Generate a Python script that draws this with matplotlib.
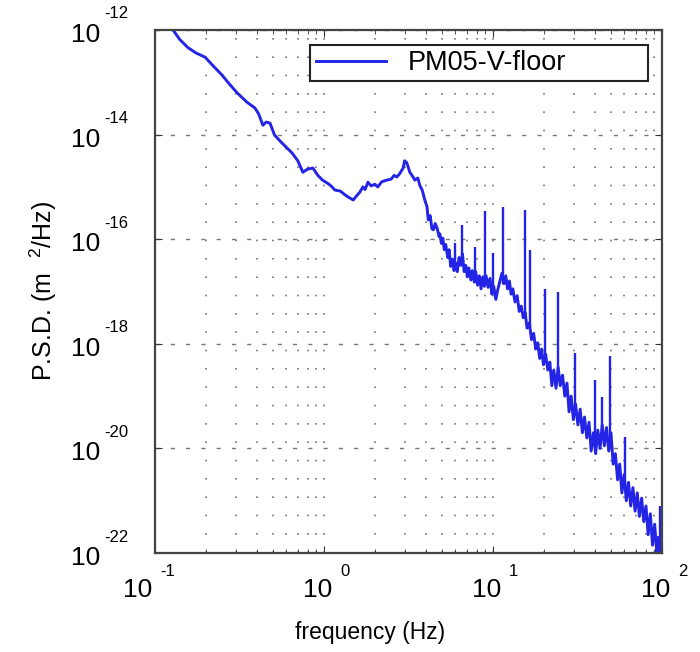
# Imports =====================================================================
import numpy as np
import matplotlib
matplotlib.use("Agg")
import matplotlib.pyplot as plt
from matplotlib.ticker import LogLocator, NullLocator, FixedLocator

plt.rcParams["font.family"] = ["Liberation Sans", "DejaVu Sans"]
plt.rcParams["mathtext.fontset"] = "custom"
plt.rcParams["mathtext.rm"] = "Liberation Sans"
plt.rcParams["mathtext.it"] = "Liberation Sans"
plt.rcParams["mathtext.default"] = "regular"

# Data ========================================================================
# frequency (Hz) and log10 of PSD (m^2/Hz) along the trace
freq = [0.128, 0.14, 0.157, 0.175, 0.198, 0.22, 0.249, 0.275, 0.306, 0.35,
        0.39, 0.41, 0.435, 0.455, 0.479, 0.51, 0.56, 0.647, 0.70, 0.75,
        0.80, 0.86, 0.92, 0.98, 1.05, 1.1, 1.16, 1.25, 1.33, 1.4,
        1.49, 1.55, 1.63, 1.7, 1.75, 1.82, 1.9, 2.0, 2.08, 2.2,
        2.36, 2.5, 2.6, 2.70, 2.8, 2.94, 3.0, 3.09, 3.15, 3.22,
        3.35, 3.45, 3.59, 3.7, 3.81, 3.95, 4.07, 4.14, 4.25, 4.35,
        4.44, 4.55, 4.67, 4.8,
        4.85, 4.95, 5.05, 5.15, 5.25, 5.40, 5.50, 5.62, 5.75, 5.88,
        6.00, 6.15, 6.30, 6.45, 6.60, 6.75, 6.90, 7.05, 7.20, 7.40,
        7.55, 7.75, 7.90, 8.10, 8.30, 8.50, 8.70, 8.90, 9.10, 9.35,
        9.60, 9.85, 10.1, 10.4, 10.7, 11.0, 11.3, 11.6, 11.9, 12.2,
        12.5, 12.8, 13.1, 13.5, 13.9, 14.3, 14.7, 15.1, 15.5, 15.9,
        16.4, 16.9, 17.4, 17.9, 18.4, 18.9, 19.4, 19.9, 20.5, 21.1,
        21.7, 22.3, 22.9, 23.6, 24.3, 25.0, 25.8, 26.6, 27.4, 28.2,
        29.0, 29.9, 30.8, 31.8, 32.8, 33.8, 34.8, 35.9, 37.0, 38.1,
        39.3, 40.5, 41.7, 43.0, 44.3, 45.6, 47.0, 48.4, 49.9, 51.4,
        53.0, 54.6, 56.2, 57.9, 59.7, 61.5, 63.4, 65.3, 67.3, 69.3,
        71.4, 73.5, 75.8, 78.0, 80.4, 82.8, 85.3, 87.9, 90.5, 93.2,
        95.0, 97.0, 98.5, 100.0]
psd_exp = [-12.0, -12.18, -12.34, -12.44, -12.52, -12.68, -12.86, -13.03, -13.20, -13.38,
           -13.49, -13.60, -13.82, -13.76, -13.78, -14.01, -14.15, -14.35, -14.50, -14.72,
           -14.66, -14.64, -14.78, -14.87, -14.93, -14.98, -15.06, -15.08, -15.15, -15.20,
           -15.25, -15.18, -15.10, -15.00, -15.05, -14.91, -14.98, -14.95, -15.00, -14.90,
           -14.87, -14.85, -14.78, -14.81, -14.75, -14.64, -14.50, -14.54, -14.62, -14.72,
           -14.80, -14.87, -14.83, -14.98, -15.06, -15.25, -15.38, -15.63, -15.55, -15.80,
           -15.82, -15.70, -15.79, -15.95,
           -15.90, -16.08, -15.98, -16.20, -16.10, -16.35, -16.20, -16.52, -16.38, -16.60,
           -16.45, -16.62, -16.35, -16.50, -16.28, -16.62, -16.50, -16.72, -16.55, -16.78,
           -16.60, -16.82, -16.62, -16.88, -16.70, -16.95, -16.72, -16.90, -16.70, -16.92,
           -16.75, -17.05, -16.90, -17.15, -16.95, -16.80, -16.65, -16.85, -16.70, -16.95,
           -16.80, -17.05, -16.95, -17.20, -17.08, -17.38, -17.28, -17.50, -17.40, -17.70,
           -17.60, -17.92, -17.80, -18.10, -17.98, -18.28, -18.10, -18.40, -18.20, -18.50,
           -18.35, -18.80, -18.50, -18.85, -18.45, -18.80, -18.60, -19.00, -18.75, -19.30,
           -19.00, -19.45, -19.15, -19.55, -19.25, -19.70, -19.40, -19.80, -19.50, -20.05,
           -19.70, -20.10, -19.65, -20.00, -19.55, -19.95, -19.60, -20.05, -19.70, -20.30,
           -20.10, -20.60, -20.30, -20.85, -20.50, -21.00, -20.65, -21.10, -20.75, -21.20,
           -20.85, -21.30, -20.95, -21.40, -21.10, -21.65, -21.25, -21.85, -21.45, -22.00,
           -21.70, -22.00, -21.50, -21.80]

# narrow line peaks: frequency, log10 base, log10 top
spike_freq = [5.96, 6.56, 7.82, 8.97, 10.0, 11.45, 15.5, 16.5, 20.3, 24.3,
              30.6, 40.1, 44.2, 49.2, 60.4, 97.0]
spike_base = [-16.45, -16.45, -16.75, -16.85, -16.95, -16.85, -17.50, -17.70, -18.35, -18.55,
              -19.30, -19.90, -19.80, -19.90, -20.70, -22.00]
spike_top = [-16.07, -15.73, -16.15, -15.46, -16.26, -15.38, -15.44, -16.21, -16.95, -17.01,
             -18.18, -18.69, -19.02, -18.23, -19.78, -21.10]

# axis decades that carry labels
xtick_exp = [-1, 0, 1, 2]
ytick_exp = [-22, -20, -18, -16, -14, -12]

label = "PM05-V-floor"
line_color = "#2424e6"

# Plot ========================================================================
fig = plt.figure(figsize=(7.0, 6.52), dpi=100)
ax = fig.add_axes([0.2214, 0.1518, 0.7243, 0.8022])

ax.plot(freq, 10.0 ** np.array(psd_exp), color=line_color, lw=2.1, label=label)
ax.vlines(spike_freq, 10.0 ** np.array(spike_base), 10.0 ** np.array(spike_top),
          color=line_color, lw=1.7)

ax.set_xscale("log")
ax.set_yscale("log")
ax.set_xlim(0.1, 100)
ax.set_ylim(1e-22, 1e-12)

ax.xaxis.set_major_locator(FixedLocator([10.0 ** e for e in xtick_exp]))
ax.xaxis.set_minor_locator(LogLocator(base=10, subs=np.arange(2, 10), numticks=20))
ax.yaxis.set_major_locator(FixedLocator([10.0 ** e for e in ytick_exp]))
ax.yaxis.set_minor_locator(NullLocator())

ax.tick_params(which="both", direction="in", top=True, right=True,
               colors="#333333", labelbottom=False, labelleft=False)
ax.tick_params(which="major", length=5)
ax.tick_params(which="minor", length=3)

# tick labels: "10" with a small raised exponent
for e in xtick_exp:
    base_dx = -3 if e < 0 else 8
    ax.annotate("10", xy=(10.0 ** e, 0), xycoords=ax.get_xaxis_transform(),
                xytext=(base_dx, -37), textcoords="offset pixels",
                ha="right", va="center", fontsize=19)
    ax.annotate(str(e), xy=(10.0 ** e, 0), xycoords=ax.get_xaxis_transform(),
                xytext=(base_dx + 8, -18), textcoords="offset pixels",
                ha="left", va="center", fontsize=12)
for e in ytick_exp:
    ax.annotate("10", xy=(0, 10.0 ** e), xycoords=ax.get_yaxis_transform(),
                xytext=(-55, -5), textcoords="offset pixels",
                ha="right", va="center", fontsize=19)
    ax.annotate(str(e), xy=(0, 10.0 ** e), xycoords=ax.get_yaxis_transform(),
                xytext=(-51, 16), textcoords="offset pixels",
                ha="left", va="center", fontsize=12)

ax.grid(True, axis="x", which="both", color="#777777", lw=1.2,
        linestyle=(0, (1, 10)))
ax.grid(True, axis="y", which="major", color="#777777", lw=1.0,
        linestyle=(0, (3, 8)))

for s in ax.spines.values():
    s.set_color("#444444")
    s.set_linewidth(1.6)

ax.set_xlabel("frequency (Hz)", fontsize=16.5)
ax.xaxis.set_label_coords(0.424, -0.13)
ax.set_ylabel(r"P.S.D. (m$^{\ \ \ 2}$/Hz)", fontsize=18)
ax.yaxis.set_label_coords(-0.19, 0.5)

leg = ax.legend(loc="upper left", bbox_to_anchor=(0.306, 0.972, 0.666, 0.0),
                mode="expand", fontsize=19.5, handlelength=2.6, frameon=True,
                fancybox=False, borderpad=0.2, handletextpad=0.8,
                borderaxespad=0.0)
leg.get_frame().set_edgecolor("#222222")
leg.get_frame().set_linewidth(1.5)
leg.get_frame().set_alpha(1.0)

fig.savefig("out.png", dpi=100)
